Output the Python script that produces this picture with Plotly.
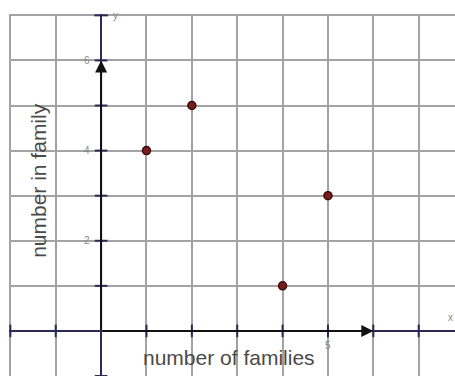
import plotly.graph_objects as go

# Data
families = [1, 2, 4, 5]
family_size = [4, 5, 1, 3]
y_tick_vals = [2, 4, 6]
x_tick_vals = [5]
axis_ticks_x = [-2, -1, 1, 2, 3, 4, 5, 6, 7]
axis_ticks_y = [-1, 1, 2, 3, 4, 5, 6]

fig = go.Figure()

# small tick marks on the axes
fig.add_trace(go.Scatter(x=axis_ticks_x, y=[0]*len(axis_ticks_x), mode="markers",
                         marker=dict(symbol="line-ns", size=9, line=dict(color="#2a2a55", width=2)),
                         hoverinfo="skip", showlegend=False))
fig.add_trace(go.Scatter(x=[0]*len(axis_ticks_y), y=axis_ticks_y, mode="markers",
                         marker=dict(symbol="line-ew", size=9, line=dict(color="#2a2a55", width=2)),
                         hoverinfo="skip", showlegend=False))

# data points
fig.add_trace(go.Scatter(x=families, y=family_size, mode="markers",
                         marker=dict(size=8, color="#7a1c1c", line=dict(color="#3a0c0c", width=1.5)),
                         showlegend=False))

# arrows (vectors from origin)
fig.add_annotation(x=6, y=0, ax=0, ay=0, xref="x", yref="y", axref="x", ayref="y",
                   text="", showarrow=True, arrowhead=2, arrowsize=1.2, arrowwidth=2, arrowcolor="#111111")
fig.add_annotation(x=0, y=6, ax=0, ay=0, xref="x", yref="y", axref="x", ayref="y",
                   text="", showarrow=True, arrowhead=2, arrowsize=1.2, arrowwidth=2, arrowcolor="#111111")

# cap at top of y axis
fig.add_shape(type="line", x0=-0.15, x1=0.15, y0=7, y1=7, xref="x", yref="y",
              line=dict(color="#2a2a55", width=2))

tick_font = dict(family="Liberation Sans, Arial", size=10, color="#888888")
for v in y_tick_vals:
    fig.add_annotation(x=-0.3, y=v, xref="x", yref="y", text=str(v), showarrow=False, font=tick_font)
for v in x_tick_vals:
    fig.add_annotation(x=5, y=-0.32, xref="x", yref="y", text=str(v), showarrow=False, font=tick_font)

fig.add_annotation(x=0.32, y=7.0, xref="x", yref="y", text="y", showarrow=False, font=tick_font)
fig.add_annotation(x=7.7, y=0.3, xref="x", yref="y", text="x", showarrow=False, font=tick_font)

title_font = dict(family="Liberation Sans, Arial", size=21, color="#4a4a4a")
fig.add_annotation(x=-1.37, y=3.35, xref="x", yref="y", text="number in family", textangle=-90,
                   showarrow=False, font=title_font)
fig.add_annotation(x=2.82, y=-0.58, xref="x", yref="y", text="number of families",
                   showarrow=False, font=title_font)

fig.update_xaxes(range=[-2.03, 7.8], dtick=1, tick0=0, showgrid=True, gridcolor="#a3a3a3", gridwidth=2,
                 zeroline=True, zerolinecolor="#2a2a55", zerolinewidth=2, showticklabels=False,
                 ticks="", showline=False, fixedrange=True)
fig.update_yaxes(range=[-1, 7.03], dtick=1, tick0=0, showgrid=True, gridcolor="#a3a3a3", gridwidth=2,
                 zeroline=True, zerolinecolor="#2a2a55", zerolinewidth=2, showticklabels=False,
                 ticks="", showline=False, fixedrange=True)

fig.update_layout(width=455, height=376, margin=dict(l=9, r=0, t=14, b=0),
                  plot_bgcolor="white", paper_bgcolor="white")

fig.write_html("out.html", config={"displayModeBar": False},
               post_script="document.body.style.margin='0';document.body.style.overflow='hidden';")
